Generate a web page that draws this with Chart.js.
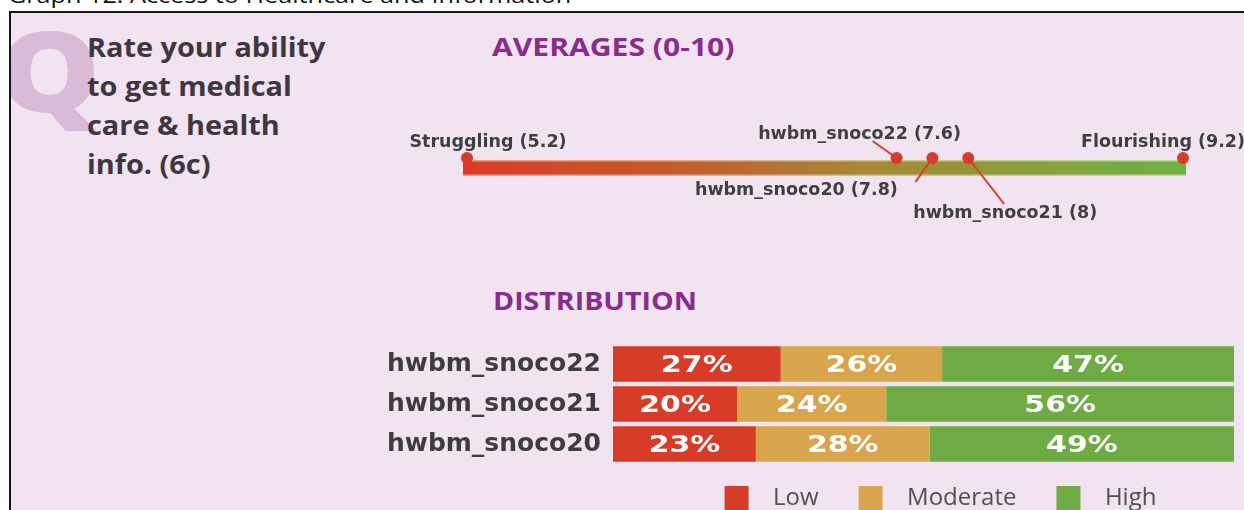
<!DOCTYPE html>
<html>
<head>
<meta charset="utf-8">
<script src="https://cdn.jsdelivr.net/npm/chart.js@4.4.1/dist/chart.umd.min.js"></script>
<style>
  html, body { margin: 0; padding: 0; }
  body { width: 1244px; height: 510px; overflow: hidden; position: relative; background: #fff; font-family: 'Open Sans', sans-serif; }
  .txt { position: absolute; white-space: nowrap; transform-origin: left top; }
  #caption { left: 8px; top: -16px; font-size: 22.5px; line-height: 22.5px; color: #111; transform: scaleX(1.12); }
  #panel { position: absolute; left: 9px; top: 11px; width: 1300px; height: 560px; background: #f1e3f0; border-top: 2px solid #151515; border-left: 2px solid #151515; overflow: hidden; }
  #qmark { position: absolute; left: -13px; top: 0px; font-size: 112px; line-height: 112px; font-weight: 800; color: #d9bbd7; transform: scaleX(1.15); transform-origin: left top; }
  #question { left: 87px; top: 28px; font-size: 26px; line-height: 39px; font-weight: bold; color: #3e3740; transform: scaleX(1.11); }
  .head { font-size: 25.5px; line-height: 25.5px; font-weight: bold; color: #8a2b8e; }
  #avgHead { left: 492px; top: 34px; transform: scaleX(1.18); }
  #distHead { left: 493px; top: 288px; transform: scaleX(1.12); }
  canvas { position: absolute; }
  #avg { left: 380px; top: 88px; }
  #dist { left: 370px; top: 329px; }
</style>
</head>
<body>
<div id="caption" class="txt">Graph 12: Access to Healthcare and Information</div>
<div id="panel"><div id="qmark">Q</div></div>
<div id="question" class="txt">Rate your ability<br>to get medical<br>care &amp; health<br>info. (6c)</div>
<div id="avgHead" class="txt head">AVERAGES (0-10)</div>
<div id="distHead" class="txt head">DISTRIBUTION</div>
<canvas id="avg" width="864" height="140"></canvas>
<canvas id="dist" width="874" height="189"></canvas>
<script>
// averages (0-10)
const avgNames = ['Struggling', 'hwbm_snoco22', 'hwbm_snoco20', 'hwbm_snoco21', 'Flourishing'];
const avgValues = [5.2, 7.6, 7.8, 8, 9.2];

// distribution (%)
const categories = ['hwbm_snoco22', 'hwbm_snoco21', 'hwbm_snoco20'];
const levelNames = ['Low', 'Moderate', 'High'];
const lowValues = [27, 20, 23];
const moderateValues = [26, 24, 28];
const highValues = [47, 56, 49];

const RED = '#d63c27';
const ORANGE = '#d9a54c';
const GREEN = '#6eab45';

// where each average label sits, in px from its dot; lx/ly = far end of the leader line
const avgLabelPos = [
    { dx: 21, dy: -11 },
    { dx: -37, dy: -19, lx: -24, ly: -17 },
    { dx: -136, dy: 37, lx: -17, ly: 24 },
    { dx: 37, dy: 60, lx: 36, ly: 46 },
    { dx: -20, dy: -11 }
];

const avgBar = {
    id: 'avgBar',
    beforeDatasetsDraw(chart) {
        const { ctx, scales: { x, y } } = chart;
        const x0 = x.getPixelForValue(avgValues[0]) - 4;
        const x1 = x.getPixelForValue(avgValues[avgValues.length - 1]) + 3;
        const top = y.getPixelForValue(0) + 2;
        ctx.save();
        const edge = ctx.createLinearGradient(x0, 0, x1, 0);
        edge.addColorStop(0, '#ee9a80');
        edge.addColorStop(1, '#b6dc98');
        ctx.fillStyle = edge;
        ctx.fillRect(x0, top, x1 - x0, 16);
        const g = ctx.createLinearGradient(x0, 0, x1, 0);
        g.addColorStop(0, '#d93b27');
        g.addColorStop(0.3, '#c45b2c');
        g.addColorStop(0.55, '#a68736');
        g.addColorStop(0.8, '#889f3c');
        g.addColorStop(1, '#6cb244');
        ctx.fillStyle = g;
        ctx.fillRect(x0, top + 1.5, x1 - x0, 13);
        // leader lines
        ctx.strokeStyle = RED;
        ctx.lineWidth = 2;
        chart.getDatasetMeta(0).data.forEach((pt, i) => {
            const o = avgLabelPos[i];
            if (o.lx === undefined) return;
            ctx.beginPath();
            ctx.moveTo(pt.x, pt.y);
            ctx.lineTo(pt.x + o.lx, pt.y + o.ly);
            ctx.stroke();
        });
        ctx.restore();
    },
    afterDatasetsDraw(chart) {
        const { ctx } = chart;
        ctx.save();
        ctx.font = 'bold 17.5px "DejaVu Sans"';
        ctx.fillStyle = '#3f3f3f';
        ctx.textAlign = 'center';
        ctx.textBaseline = 'alphabetic';
        chart.getDatasetMeta(0).data.forEach((pt, i) => {
            const o = avgLabelPos[i];
            ctx.fillText(avgNames[i] + ' (' + avgValues[i] + ')', pt.x + o.dx, pt.y + o.dy);
        });
        ctx.restore();
    }
};

new Chart(document.getElementById('avg'), {
    type: 'scatter',
    data: {
        datasets: [{
            data: avgValues.map(v => ({ x: v, y: 0 })),
            pointRadius: 6,
            pointBackgroundColor: RED,
            pointBorderWidth: 0,
            clip: false
        }]
    },
    options: {
        responsive: false,
        animation: false,
        events: [],
        layout: { padding: { left: 87, right: 61, top: 0, bottom: 0 } },
        scales: {
            x: { type: 'linear', min: avgValues[0], max: avgValues[avgValues.length - 1], display: false },
            y: { min: -1, max: 1, display: false }
        },
        plugins: { legend: { display: false }, tooltip: { enabled: false } }
    },
    plugins: [avgBar]
});

const pctLabels = {
    id: 'pctLabels',
    afterDatasetsDraw(chart) {
        const { ctx } = chart;
        ctx.save();
        ctx.fillStyle = '#fff';
        ctx.font = 'bold 23px "DejaVu Sans"';
        ctx.textAlign = 'center';
        ctx.textBaseline = 'alphabetic';
        chart.data.datasets.forEach((ds, i) => {
            chart.getDatasetMeta(i).data.forEach((bar, j) => {
                ctx.save();
                ctx.translate((bar.x + bar.base) / 2, bar.y + 8);
                ctx.scale(1.3, 1);
                ctx.fillText(ds.data[j] + '%', 0, 0);
                ctx.restore();
            });
        });
        ctx.restore();
    }
};

// the legend in the source sits a little right of the bar area's centre
const legendNudge = {
    id: 'legendNudge',
    afterLayout(chart) {
        chart.legend.left += 17;
        chart.legend.right += 17;
        chart.legend.top += 2;
        chart.legend.bottom += 2;
    }
};

new Chart(document.getElementById('dist'), {
    type: 'bar',
    data: {
        labels: categories,
        datasets: [
            { label: levelNames[0], data: lowValues, backgroundColor: RED, clip: false },
            { label: levelNames[1], data: moderateValues, backgroundColor: ORANGE, clip: false },
            { label: levelNames[2], data: highValues, backgroundColor: GREEN, clip: false }
        ]
    },
    options: {
        indexAxis: 'y',
        responsive: false,
        animation: false,
        events: [],
        barPercentage: 0.89,
        categoryPercentage: 1,
        layout: { padding: { left: 0, right: 10, top: 35, bottom: 0 } },
        scales: {
            x: { stacked: true, min: 0, max: 100, display: false },
            y: {
                stacked: true,
                offset: false,
                grid: { display: false, drawTicks: false },
                border: { display: false },
                ticks: {
                    padding: 12,
                    color: '#3d3d3d',
                    font: { family: 'DejaVu Sans', weight: 'bold', size: 25 }
                },
                afterFit(scale) {
                    scale.width = 243;
                }
            }
        },
        plugins: {
            tooltip: { enabled: false },
            legend: {
                position: 'bottom',
                fullSize: false,
                labels: {
                    boxWidth: 24,
                    boxHeight: 24,
                    padding: 40,
                    color: '#505050',
                    font: { family: "'Open Sans', sans-serif", size: 24 },
                    generateLabels(chart) {
                        return Chart.defaults.plugins.legend.labels.generateLabels(chart)
                            .map(item => ({ ...item, text: '  ' + item.text }));
                    }
                }
            }
        }
    },
    plugins: [pctLabels, legendNudge]
});
</script>
</body>
</html>
